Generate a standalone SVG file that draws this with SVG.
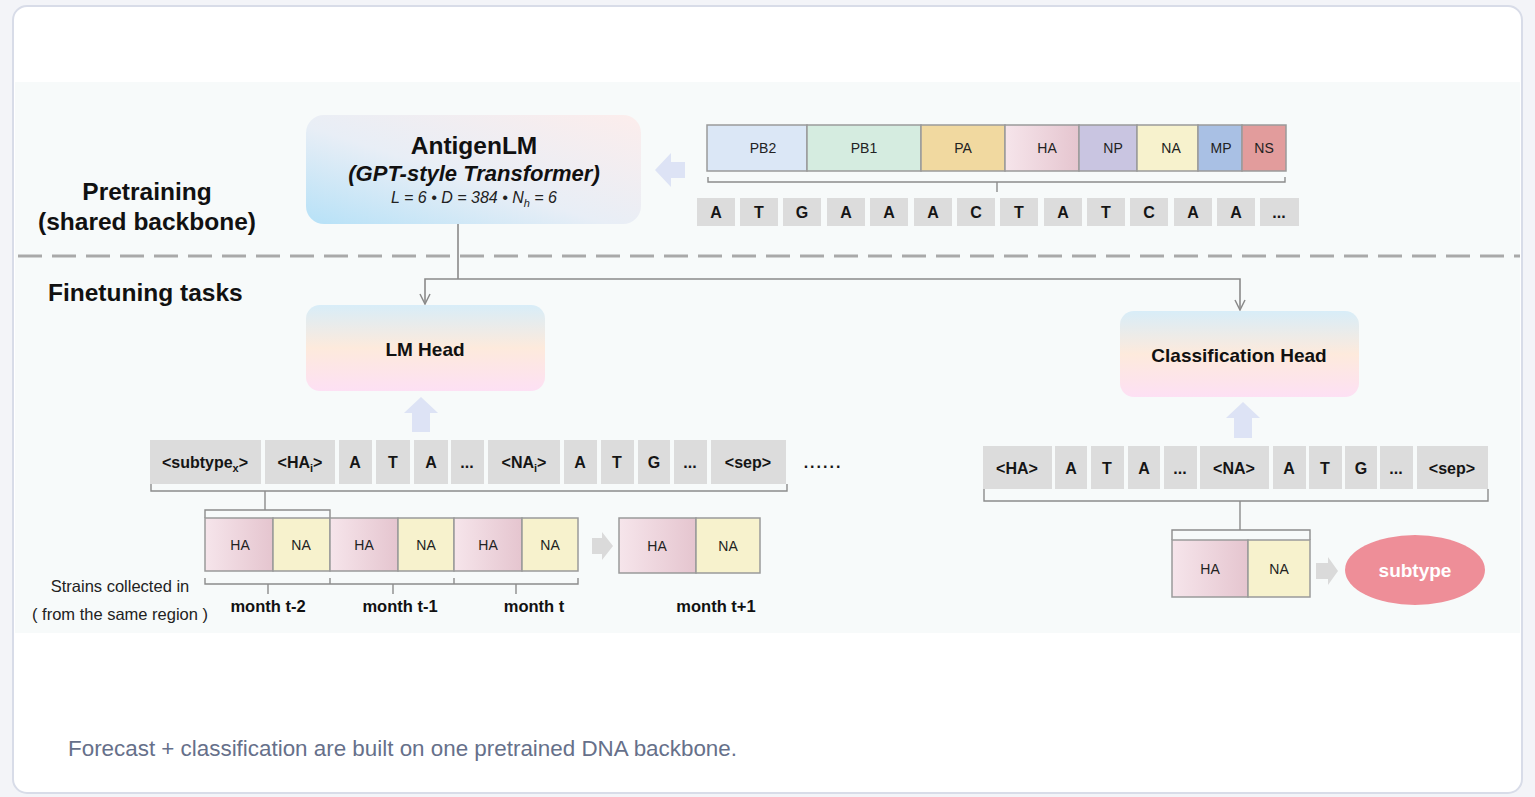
<svg xmlns="http://www.w3.org/2000/svg" width="1535" height="797" viewBox="0 0 1535 797">
  <style>
    .sans { font-family: "Liberation Sans", Arial, sans-serif; }
    .title { font-family: "Liberation Sans", Arial, sans-serif; font-weight: bold; font-size: 24.5px; fill: #111; text-anchor: middle; }
    .seg { stroke: #9a9a9a; stroke-width: 1.5; }
    .seglabel { font-family: "Liberation Sans", Arial, sans-serif; font-size: 14px; fill: #222; text-anchor: middle; }
    .tok { fill: #dcdcdc; }
    .toklabel { font-family: "Liberation Sans", Arial, sans-serif; font-weight: bold; font-size: 16px; fill: #151515; text-anchor: middle; }
    .brace { fill: none; stroke: #8c8c8c; stroke-width: 1.4; }
    .conn { fill: none; stroke: #8a8a8a; stroke-width: 1.6; }
    .blockarrow { fill: #dde3f5; }
    .grayarrow { fill: #dadada; }
    .month { font-family: "Liberation Sans", Arial, sans-serif; font-weight: bold; font-size: 16.5px; fill: #111; text-anchor: middle; }
    .note { font-family: "Liberation Sans", Arial, sans-serif; font-size: 16.5px; fill: #222; text-anchor: middle; }
    .headlabel { font-family: "Liberation Sans", Arial, sans-serif; font-weight: bold; font-size: 19px; fill: #111; text-anchor: middle; }
  </style>
  <defs>
    <linearGradient id="gBackbone" x1="0" y1="1" x2="1" y2="0">
      <stop offset="0" stop-color="#b6e1f7"/>
      <stop offset="0.45" stop-color="#e8eef6"/>
      <stop offset="1" stop-color="#fcedec"/>
    </linearGradient>
    <linearGradient id="gHead" x1="0" y1="0" x2="0" y2="1">
      <stop offset="0" stop-color="#d8edf8"/>
      <stop offset="0.5" stop-color="#fdeadc"/>
      <stop offset="1" stop-color="#fde0f4"/>
    </linearGradient>
    <linearGradient id="gHA" x1="0" y1="0" x2="1" y2="0">
      <stop offset="0" stop-color="#f6e5eb"/>
      <stop offset="1" stop-color="#e5c5cf"/>
    </linearGradient>
    <!-- open chevron arrowhead, drawn along +x so orient="auto" follows the line -->
    <marker id="chev" viewBox="0 0 12 12" refX="11" refY="6" markerWidth="12" markerHeight="12" markerUnits="userSpaceOnUse" orient="auto">
      <path d="M1,1 L11,6 L1,11" fill="none" stroke="#8a8a8a" stroke-width="1.5"/>
    </marker>
  </defs>

  <!-- page and card -->
  <rect x="0" y="0" width="1535" height="797" fill="#f3f4f8"/>
  <rect x="13" y="6" width="1509" height="787" rx="14" fill="#ffffff" stroke="#d8dce8" stroke-width="2"/>
  <rect x="15" y="82" width="1505" height="551" fill="#f7fafa"/>

  <!-- section labels -->
  <g id="label-pretraining">
    <text class="title" x="147" y="200">Pretraining</text>
    <text class="title" x="147" y="230">(shared backbone)</text>
  </g>
  <line x1="18" y1="256" x2="1520" y2="256" stroke="#a9a9a9" stroke-width="3" stroke-dasharray="24 10"/>
  <g id="label-finetuning">
    <text class="sans" x="48" y="301" font-size="24.5" font-weight="bold" fill="#111">Finetuning tasks</text>
  </g>

  <!-- connectors -->
  <g id="connectors">
    <polyline class="conn" points="458,224 458,279"/>
    <polyline class="conn" points="458,279 425,279 425,304" marker-end="url(#chev)"/>
    <polyline class="conn" points="458,279 1240,279 1240,310" marker-end="url(#chev)"/>
  </g>

  <!-- backbone -->
  <g id="antigenlm">
    <rect x="306" y="115" width="335" height="109" rx="18" fill="url(#gBackbone)"/>
    <text class="title" x="474" y="154">AntigenLM</text>
    <text class="sans" x="474" y="181" font-size="22" font-weight="bold" font-style="italic" fill="#111" text-anchor="middle">(GPT-style Transformer)</text>
    <text class="sans" x="474" y="203" font-size="16" font-style="italic" fill="#222" text-anchor="middle">L = 6 • D = 384 • N<tspan font-size="11" dy="4">h</tspan><tspan dy="-4"> = 6</tspan></text>
  </g>

  <!-- input arrow into backbone -->
  <g id="arrow-genome">
    <polygon class="blockarrow" points="655,170 671,153 671,162 685,162 685,178 671,178 671,187"/>
  </g>

  <!-- genome segments -->
  <g id="genome-segments">
    <rect class="seg" x="707" y="125" width="100" height="46" fill="#dbe7f6"/>
    <rect class="seg" x="807" y="125" width="114" height="46" fill="#d5ece0"/>
    <rect class="seg" x="921" y="125" width="84" height="46" fill="#f1d9a0"/>
    <rect class="seg" x="1005" y="125" width="74" height="46" fill="url(#gHA)"/>
    <rect class="seg" x="1079" y="125" width="58" height="46" fill="#c9c5e1"/>
    <rect class="seg" x="1137" y="125" width="61" height="46" fill="#f7f2cd"/>
    <rect class="seg" x="1198" y="125" width="44" height="46" fill="#a9c0e4"/>
    <rect class="seg" x="1242" y="125" width="44" height="46" fill="#e29c9c"/>
    <text class="seglabel" x="763" y="153">PB2</text>
    <text class="seglabel" x="864" y="153">PB1</text>
    <text class="seglabel" x="963" y="153">PA</text>
    <text class="seglabel" x="1047" y="153">HA</text>
    <text class="seglabel" x="1113" y="153">NP</text>
    <text class="seglabel" x="1171" y="153">NA</text>
    <text class="seglabel" x="1221" y="153">MP</text>
    <text class="seglabel" x="1264" y="153">NS</text>
    <path class="brace" d="M708,177 V182 H1285 V177 M997,182 V192"/>
  </g>

  <!-- nucleotide tokens -->
  <g id="nucleotides">
    <rect class="tok" x="697" y="198" width="38" height="28"/>
    <rect class="tok" x="740" y="198" width="38" height="28"/>
    <rect class="tok" x="783" y="198" width="38" height="28"/>
    <rect class="tok" x="827" y="198" width="38" height="28"/>
    <rect class="tok" x="870" y="198" width="38" height="28"/>
    <rect class="tok" x="914" y="198" width="38" height="28"/>
    <rect class="tok" x="957" y="198" width="38" height="28"/>
    <rect class="tok" x="1000" y="198" width="38" height="28"/>
    <rect class="tok" x="1044" y="198" width="38" height="28"/>
    <rect class="tok" x="1087" y="198" width="38" height="28"/>
    <rect class="tok" x="1130" y="198" width="38" height="28"/>
    <rect class="tok" x="1174" y="198" width="38" height="28"/>
    <rect class="tok" x="1217" y="198" width="38" height="28"/>
    <rect class="tok" x="1260" y="198" width="39" height="28"/>
    <text class="toklabel" x="716" y="218">A</text>
    <text class="toklabel" x="759" y="218">T</text>
    <text class="toklabel" x="802" y="218">G</text>
    <text class="toklabel" x="846" y="218">A</text>
    <text class="toklabel" x="889" y="218">A</text>
    <text class="toklabel" x="933" y="218">A</text>
    <text class="toklabel" x="976" y="218">C</text>
    <text class="toklabel" x="1019" y="218">T</text>
    <text class="toklabel" x="1063" y="218">A</text>
    <text class="toklabel" x="1106" y="218">T</text>
    <text class="toklabel" x="1149" y="218">C</text>
    <text class="toklabel" x="1193" y="218">A</text>
    <text class="toklabel" x="1236" y="218">A</text>
    <text class="toklabel" x="1279" y="218">...</text>
  </g>

  <!-- LM head branch -->
  <g id="lm-head">
    <rect x="306" y="305" width="239" height="86" rx="14" fill="url(#gHead)"/>
    <text class="headlabel" x="425" y="356">LM Head</text>
  </g>
  <g id="arrow-lm">
    <polygon class="blockarrow" points="421,397 438,413 430,413 430,432 412,432 412,413 404,413"/>
  </g>

  <g id="lm-tokens">
    <rect class="tok" x="150" y="440" width="111" height="44"/>
    <rect class="tok" x="265" y="440" width="70" height="44"/>
    <rect class="tok" x="339" y="440" width="33" height="44"/>
    <rect class="tok" x="376" y="440" width="34" height="44"/>
    <rect class="tok" x="414" y="440" width="34" height="44"/>
    <rect class="tok" x="451" y="440" width="33" height="44"/>
    <rect class="tok" x="488" y="440" width="72" height="44"/>
    <rect class="tok" x="564" y="440" width="33" height="44"/>
    <rect class="tok" x="601" y="440" width="33" height="44"/>
    <rect class="tok" x="638" y="440" width="32" height="44"/>
    <rect class="tok" x="674" y="440" width="33" height="44"/>
    <rect class="tok" x="711" y="440" width="75" height="44"/>
    <text class="toklabel" x="205" y="468">&lt;subtype<tspan font-size="11" dy="4">x</tspan><tspan dy="-4">&gt;</tspan></text>
    <text class="toklabel" x="300" y="468">&lt;HA<tspan font-size="11" dy="4">i</tspan><tspan dy="-4">&gt;</tspan></text>
    <text class="toklabel" x="355" y="468">A</text>
    <text class="toklabel" x="393" y="468">T</text>
    <text class="toklabel" x="431" y="468">A</text>
    <text class="toklabel" x="467" y="468" font-size="13">...</text>
    <text class="toklabel" x="524" y="468">&lt;NA<tspan font-size="11" dy="4">i</tspan><tspan dy="-4">&gt;</tspan></text>
    <text class="toklabel" x="580" y="468">A</text>
    <text class="toklabel" x="617" y="468">T</text>
    <text class="toklabel" x="654" y="468">G</text>
    <text class="toklabel" x="690" y="468" font-size="13">...</text>
    <text class="toklabel" x="748" y="468">&lt;sep&gt;</text>
    <text class="toklabel" x="823" y="468" letter-spacing="2">......</text>
    <path class="brace" d="M151,484 V491 H787 V484 M265,491 V510 M205,518 V510 H330 V518"/>
  </g>

  <g id="strains-history">
    <rect class="seg" x="205" y="518" width="68" height="53" fill="url(#gHA)"/>
    <rect class="seg" x="273" y="518" width="57" height="53" fill="#f7f2cd"/>
    <rect class="seg" x="330" y="518" width="68" height="53" fill="url(#gHA)"/>
    <rect class="seg" x="398" y="518" width="56" height="53" fill="#f7f2cd"/>
    <rect class="seg" x="454" y="518" width="68" height="53" fill="url(#gHA)"/>
    <rect class="seg" x="522" y="518" width="56" height="53" fill="#f7f2cd"/>
    <text class="seglabel" x="240" y="550">HA</text>
    <text class="seglabel" x="301" y="550">NA</text>
    <text class="seglabel" x="364" y="550">HA</text>
    <text class="seglabel" x="426" y="550">NA</text>
    <text class="seglabel" x="488" y="550">HA</text>
    <text class="seglabel" x="550" y="550">NA</text>
    <path class="brace" d="M205,578 V584 H578 V578 M330,584 V578 M454,584 V578 M268,584 V594 M393,584 V594 M516,584 V594"/>
    <text class="month" x="268" y="612">month t-2</text>
    <text class="month" x="400" y="612">month t-1</text>
    <text class="month" x="534" y="612">month t</text>
    <text class="note" x="120" y="592">Strains collected in</text>
    <text class="note" x="120" y="620">( from the same region )</text>
  </g>

  <g id="arrow-forecast">
    <polygon class="grayarrow" points="613,546 602,532 602,538 592,538 592,554 602,554 602,560"/>
  </g>

  <g id="strain-next">
    <rect class="seg" x="619" y="518" width="77" height="55" fill="url(#gHA)"/>
    <rect class="seg" x="696" y="518" width="64" height="55" fill="#f7f2cd"/>
    <text class="seglabel" x="657" y="551">HA</text>
    <text class="seglabel" x="728" y="551">NA</text>
    <text class="month" x="716" y="612">month t+1</text>
  </g>

  <!-- classification branch -->
  <g id="classification-head">
    <rect x="1120" y="311" width="239" height="86" rx="14" fill="url(#gHead)"/>
    <text class="headlabel" x="1239" y="362">Classification Head</text>
  </g>
  <g id="arrow-cls">
    <polygon class="blockarrow" points="1243,402 1260,418 1252,418 1252,438 1234,438 1234,418 1226,418"/>
  </g>

  <g id="cls-tokens">
    <rect class="tok" x="983" y="446" width="69" height="43"/>
    <rect class="tok" x="1055" y="446" width="32" height="43"/>
    <rect class="tok" x="1091" y="446" width="33" height="43"/>
    <rect class="tok" x="1128" y="446" width="32" height="43"/>
    <rect class="tok" x="1164" y="446" width="33" height="43"/>
    <rect class="tok" x="1200" y="446" width="69" height="43"/>
    <rect class="tok" x="1273" y="446" width="33" height="43"/>
    <rect class="tok" x="1309" y="446" width="33" height="43"/>
    <rect class="tok" x="1345" y="446" width="32" height="43"/>
    <rect class="tok" x="1380" y="446" width="33" height="43"/>
    <rect class="tok" x="1417" y="446" width="71" height="43"/>
    <text class="toklabel" x="1017" y="474">&lt;HA&gt;</text>
    <text class="toklabel" x="1071" y="474">A</text>
    <text class="toklabel" x="1107" y="474">T</text>
    <text class="toklabel" x="1144" y="474">A</text>
    <text class="toklabel" x="1180" y="474" font-size="13">...</text>
    <text class="toklabel" x="1234" y="474">&lt;NA&gt;</text>
    <text class="toklabel" x="1289" y="474">A</text>
    <text class="toklabel" x="1325" y="474">T</text>
    <text class="toklabel" x="1361" y="474">G</text>
    <text class="toklabel" x="1396" y="474" font-size="13">...</text>
    <text class="toklabel" x="1452" y="474">&lt;sep&gt;</text>
    <path class="brace" d="M984,489 V501 H1488 V489 M1240,501 V530 M1172,540 V530 H1310 V540"/>
  </g>

  <g id="cls-strain">
    <rect class="seg" x="1172" y="540" width="76" height="57" fill="url(#gHA)"/>
    <rect class="seg" x="1248" y="540" width="62" height="57" fill="#f7f2cd"/>
    <text class="seglabel" x="1210" y="574">HA</text>
    <text class="seglabel" x="1279" y="574">NA</text>
  </g>

  <g id="arrow-subtype">
    <polygon class="grayarrow" points="1338,571 1328,557 1328,563 1316,563 1316,579 1328,579 1328,585"/>
  </g>

  <g id="subtype">
    <ellipse cx="1415" cy="570" rx="70" ry="35" fill="#ee8e98"/>
    <text class="sans" x="1415" y="577" font-size="19" font-weight="bold" fill="#ffffff" text-anchor="middle">subtype</text>
  </g>

  <!-- caption -->
  <text class="sans" x="68" y="756" font-size="22.4" fill="#66708a">Forecast + classification are built on one pretrained DNA backbone.</text>
</svg>
